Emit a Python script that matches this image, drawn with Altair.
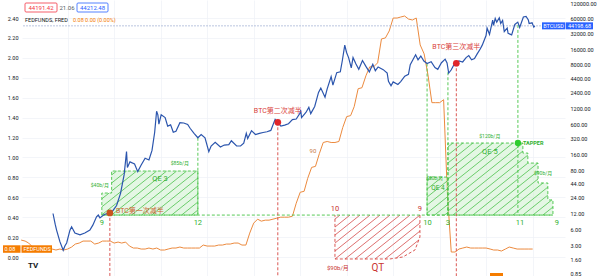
import math
import altair as alt
import pandas as pd

# ---------------- values ----------------
btc_series = [
    ("2011-09-08", 12.0), ("2011-09-25", 7.5), ("2011-10-06", 5.8), ("2011-11-01", 3.5),
    ("2011-11-27", 2.4), ("2011-12-10", 2.9), ("2011-12-24", 3.3), ("2012-01-19", 5.8),
    ("2012-02-01", 6.7), ("2012-02-27", 5.1), ("2012-04-07", 4.7), ("2012-05-15", 5.1),
    ("2012-06-24", 5.8), ("2012-07-17", 7.2), ("2012-08-15", 10.4), ("2012-08-29", 11.2),
    ("2012-09-11", 9.9), ("2012-10-15", 11.5), ("2012-11-28", 12.3), ("2012-12-20", 13.4),
    ("2013-01-20", 17.0), ("2013-02-20", 29.0), ("2013-03-20", 65.0), ("2013-04-08", 180.0),
    ("2013-04-15", 90.0), ("2013-05-05", 115.0), ("2013-06-10", 105.0), ("2013-07-05", 75.0),
    ("2013-08-01", 100.0), ("2013-09-01", 135.0), ("2013-10-01", 125.0), ("2013-10-25", 190.0),
    ("2013-11-15", 420.0), ("2013-11-30", 1050.0), ("2013-12-10", 900.0), ("2013-12-18", 600.0),
    ("2014-01-05", 900.0), ("2014-02-05", 800.0), ("2014-02-25", 550.0), ("2014-03-20", 580.0),
    ("2014-04-10", 420.0), ("2014-05-01", 440.0), ("2014-06-01", 640.0), ("2014-07-01", 630.0),
    ("2014-08-01", 590.0), ("2014-08-20", 500.0), ("2014-09-20", 400.0), ("2014-10-20", 330.0),
    ("2014-11-15", 380.0), ("2014-12-15", 330.0), ("2015-01-14", 180.0), ("2015-02-01", 230.0),
    ("2015-03-05", 270.0), ("2015-04-15", 220.0), ("2015-05-15", 240.0), ("2015-06-20", 245.0),
    ("2015-07-10", 290.0), ("2015-08-20", 230.0), ("2015-09-20", 230.0), ("2015-10-15", 260.0),
    ("2015-11-04", 400.0), ("2015-11-15", 320.0), ("2015-12-15", 450.0), ("2016-01-15", 380.0),
    ("2016-02-15", 400.0), ("2016-03-15", 415.0), ("2016-04-15", 430.0), ("2016-05-15", 455.0),
    ("2016-06-18", 740.0), ("2016-07-09", 650.0), ("2016-08-02", 550.0), ("2016-09-01", 575.0),
    ("2016-10-01", 610.0), ("2016-11-01", 730.0), ("2016-12-01", 750.0), ("2016-12-30", 960.0),
    ("2017-01-05", 1100.0), ("2017-01-12", 800.0), ("2017-02-15", 1000.0), ("2017-03-10", 1250.0),
    ("2017-03-25", 950.0), ("2017-04-25", 1300.0), ("2017-05-25", 2400.0), ("2017-06-12", 2900.0),
    ("2017-07-15", 1950.0), ("2017-08-01", 2800.0), ("2017-09-01", 4800.0), ("2017-09-15", 3300.0),
    ("2017-10-15", 5700.0), ("2017-11-12", 5900.0), ("2017-11-28", 9700.0), ("2017-12-17", 19000.0),
    ("2017-12-31", 13800.0), ("2018-01-16", 11000.0), ("2018-02-06", 7000.0), ("2018-02-20", 11000.0),
    ("2018-03-15", 8300.0), ("2018-04-06", 6600.0), ("2018-05-05", 9700.0), ("2018-06-01", 7500.0),
    ("2018-06-28", 5900.0), ("2018-07-25", 8200.0), ("2018-08-14", 6200.0), ("2018-09-05", 7300.0),
    ("2018-10-15", 6500.0), ("2018-11-15", 5600.0), ("2018-11-25", 3900.0), ("2018-12-15", 3200.0),
    ("2019-01-01", 3800.0), ("2019-02-07", 3400.0), ("2019-03-01", 3850.0), ("2019-04-02", 4900.0),
    ("2019-05-01", 5300.0), ("2019-05-15", 8100.0), ("2019-06-26", 12500.0), ("2019-07-15", 10000.0),
    ("2019-08-06", 11800.0), ("2019-08-30", 9500.0), ("2019-09-24", 8500.0), ("2019-10-26", 9200.0),
    ("2019-11-25", 7100.0), ("2019-12-17", 6600.0), ("2020-01-15", 8800.0), ("2020-02-13", 10300.0),
    ("2020-02-28", 8700.0), ("2020-03-12", 5600.0), ("2020-03-31", 6400.0), ("2020-04-30", 8700.0),
    ("2020-05-11", 8600.0), ("2020-06-01", 9500.0), ("2020-06-30", 9100.0), ("2020-07-27", 11000.0),
    ("2020-08-17", 12000.0), ("2020-09-08", 10000.0), ("2020-10-01", 10600.0), ("2020-10-21", 12800.0),
    ("2020-11-15", 16000.0), ("2020-12-01", 19000.0), ("2020-12-31", 29000.0), ("2021-01-08", 40000.0),
    ("2021-01-27", 30500.0), ("2021-02-21", 57000.0), ("2021-02-28", 45000.0), ("2021-03-13", 61000.0),
    ("2021-03-25", 52000.0), ("2021-04-14", 63000.0), ("2021-04-25", 49000.0), ("2021-05-10", 56000.0),
    ("2021-05-23", 34500.0), ("2021-06-15", 40000.0), ("2021-06-22", 31800.0), ("2021-07-20", 29800.0),
    ("2021-08-14", 47000.0), ("2021-09-06", 52000.0), ("2021-09-21", 41000.0), ("2021-10-20", 65000.0),
    ("2021-11-10", 67000.0), ("2021-11-28", 57000.0), ("2021-12-04", 49000.0), ("2021-12-27", 50500.0),
    ("2022-01-10", 41800.0), ("2022-01-18", 44198.68),
]
btc_dates = [d for d, _ in btc_series]
btc_close = [v for _, v in btc_series]

fed_first_month = (2011, 1)
fed_rate = [
    0.17, 0.16, 0.14, 0.10, 0.09, 0.09, 0.07, 0.10, 0.08, 0.07, 0.08, 0.07,
    0.08, 0.10, 0.13, 0.14, 0.16, 0.16, 0.16, 0.13, 0.14, 0.16, 0.16, 0.16,
    0.14, 0.15, 0.14, 0.15, 0.11, 0.09, 0.09, 0.08, 0.08, 0.09, 0.08, 0.09,
    0.07, 0.07, 0.08, 0.09, 0.09, 0.10, 0.09, 0.09, 0.09, 0.09, 0.09, 0.12,
    0.11, 0.11, 0.11, 0.12, 0.12, 0.13, 0.13, 0.14, 0.14, 0.12, 0.12, 0.24,
    0.34, 0.38, 0.36, 0.37, 0.37, 0.38, 0.39, 0.40, 0.40, 0.40, 0.41, 0.54,
    0.65, 0.66, 0.79, 0.90, 0.91, 1.04, 1.15, 1.16, 1.15, 1.15, 1.16, 1.30,
    1.41, 1.42, 1.51, 1.69, 1.70, 1.82, 1.91, 1.91, 1.95, 2.19, 2.20, 2.27,
    2.40, 2.40, 2.41, 2.42, 2.39, 2.38, 2.40, 2.13, 2.04, 1.83, 1.55, 1.55,
    1.55, 1.58, 0.65, 0.05, 0.05, 0.08, 0.09, 0.10, 0.09, 0.09, 0.09, 0.09,
    0.09, 0.08, 0.07, 0.07, 0.06, 0.08, 0.10, 0.09, 0.08, 0.08, 0.08, 0.08,
    0.08,
]

halving_dates = ["2012-11-28", "2016-07-09", "2020-05-11"]
halving_price = [12.3, 650.0, 8600.0]
halving_labels = ["BTC第一次减半", "BTC第二次减半", "BTC第三次减半"]
halving_label_price = [13.4, 1064.0, 17500.0]
halving_label_date = ["2013-01-15", "2016-07-09", "2020-05-11"]

left_ticks = [0.0, 0.2, 0.4, 0.6, 0.8, 1.0, 1.2, 1.4, 1.6, 1.8, 2.0, 2.2, 2.4]
right_ticks = [0.85, 1.6, 3, 6, 12, 24, 44, 80, 160, 320, 600, 1200, 2400, 4400,
               8000, 16000, 32000, 60000, 120000]
year_lines = list(range(2012, 2023))

last_btc = 44198.68
last_fed = 0.08

# QE / QT annotation geometry (dates, BTC price levels)
BASE = 11.2
qe3_steps = [("2012-09-26", 29.4), ("2012-12-12", 77.0)]
qe3_end = "2014-10-20"
qe4_steps = [("2019-09-24", 59.0)]
qe4_end = "2020-03-06"
qe5_steps = [("2020-03-06", 262.0), ("2021-10-16", 169.0), ("2021-11-24", 109.0),
             ("2022-02-12", 45.6), ("2022-04-30", 21.7)]
qe5_end = "2022-06-09"
qt_shape = [("2017-10-01", 11.2), ("2019-07-30", 11.2), ("2019-07-30", 4.29),
            ("2019-06-21", 2.43), ("2019-03-18", 1.79), ("2018-12-06", 1.64),
            ("2017-10-01", 1.64)]
green_vlines = [("2014-10-20", 330.0), ("2019-09-24", 8500.0),
                ("2020-03-06", 5800.0), ("2021-09-07", 46000.0)]
taper_point = ("2021-09-07", 262.0)

green_notes = [
    ("$40b/月", "2012-09-11", 41.8, 5.0),
    ("$85b/月", "2014-06-01", 109.0, 5.0),
    ("QE 3", "2013-12-27", 54.3, 7.5),
    ("$60b/月", "2019-11-24", 54.0, 4.5),
    ("QE 4", "2019-12-18", 36.6, 6.5),
    ("$120b/月", "2021-01-30", 356.0, 5.0),
    ("QE 5", "2021-01-30", 177.0, 7.5),
    ("$90b/月", "2022-03-24", 70.6, 5.0),
]
green_months = [("9", "2012-09-26"), ("12", "2014-10-20"), ("10", "2019-09-28"),
                ("3", "2020-03-06"), ("11", "2021-09-23"), ("9", "2022-07-10")]
green_month_price = 7.9
red_months = [("10", "2017-10-01"), ("9", "2019-07-30")]
red_month_price = 14.6
red_notes = [("$90b/月", "2017-10-24", 1.105, 6.0), ("QT", "2018-09-03", 1.105, 10.0)]
orange_note = ("90", "2017-04-11", 185.0)

# ---------------- layout constants ----------------
W, H = 543, 276
PAD_L = 22
X_DOM = [2011.018, 2022.695]
FED_DOM = [-0.1908, 2.581]
BTC_DOM = [0.7786, 136980.0]

BLUE = "#2b55ad"
ORANGE = "#ec8a3e"
GREEN = "#45c445"
GREEN_TXT = "#2fb02f"
RED = "#d64541"
RED_TXT = "#c9342f"
TAG_BLUE = "#2962ff"
TAG_ORANGE = "#f57c00"
GRID = "#eef1f7"
FONT = "Roboto, 'Noto Sans CJK SC'"


def dy(s):
    d = pd.Timestamp(s)
    a = pd.Timestamp(year=d.year, month=1, day=1)
    b = pd.Timestamp(year=d.year + 1, month=1, day=1)
    return d.year + (d - a) / (b - a)


LP0, LP1 = math.log(BTC_DOM[0]), math.log(BTC_DOM[1])


def to_px(t, p):
    x = (t - X_DOM[0]) / (X_DOM[1] - X_DOM[0]) * W
    y = H - (math.log(p) - LP0) / (LP1 - LP0) * H
    return x, y


def from_px(x, y):
    t = X_DOM[0] + x / W * (X_DOM[1] - X_DOM[0])
    p = math.exp(LP0 + (H - y) / H * (LP1 - LP0))
    return t, p


def step_polygon(steps, end):
    pts = [(dy(steps[0][0]), BASE)]
    for i, (d, lvl) in enumerate(steps):
        t_next = dy(steps[i + 1][0]) if i + 1 < len(steps) else dy(end)
        pts.append((dy(d), lvl))
        pts.append((t_next, lvl))
    pts.append((dy(end), BASE))
    return pts


def step_rects(steps, end):
    rows = []
    for i, (d, lvl) in enumerate(steps):
        t_next = dy(steps[i + 1][0]) if i + 1 < len(steps) else dy(end)
        rows.append({"t": dy(d), "t2": t_next, "p": BASE, "p2": lvl})
    return rows


def hatch(poly, spacing=10.0, slope=0.8):
    pix = [to_px(t, p) for t, p in poly]
    cv = [y + slope * x for x, y in pix]
    step = spacing * slope
    c = min(cv) + step * 0.5
    segs = []
    while c < max(cv):
        hits = []
        n = len(pix)
        for i in range(n):
            x1, y1 = pix[i]
            x2, y2 = pix[(i + 1) % n]
            f1 = y1 + slope * x1 - c
            f2 = y2 + slope * x2 - c
            if (f1 < 0) != (f2 < 0):
                s = f1 / (f1 - f2)
                hits.append((x1 + s * (x2 - x1), y1 + s * (y2 - y1)))
        hits.sort()
        for j in range(0, len(hits) - 1, 2):
            ta, pa = from_px(*hits[j])
            tb, pb = from_px(*hits[j + 1])
            segs.append({"t": ta, "p": pa, "t2": tb, "p2": pb})
        c += step
    return segs


# ---------------- tables ----------------
btc_df = pd.DataFrame({"t": [dy(d) for d in btc_dates], "p": btc_close})
fed_dates = []
for i in range(len(fed_rate)):
    m = fed_first_month[1] - 1 + i
    fed_dates.append(f"{fed_first_month[0] + m // 12}-{m % 12 + 1:02d}-01")
fed_df = pd.DataFrame({"t": [dy(d) for d in fed_dates], "v": fed_rate})

green_polys = {
    "qe3": step_polygon(qe3_steps, qe3_end),
    "qe4": step_polygon(qe4_steps, qe4_end),
    "qe5": step_polygon(qe5_steps, qe5_end),
}
qt_poly = [(dy(d), p) for d, p in qt_shape]

green_fill = pd.DataFrame(step_rects(qe3_steps, qe3_end) + step_rects(qe4_steps, qe4_end)
                          + step_rects(qe5_steps, qe5_end))
green_hatch = pd.DataFrame(sum([hatch(p) for p in green_polys.values()], []))
red_hatch = pd.DataFrame(hatch(qt_poly))

outline_rows = []
for name, poly in green_polys.items():
    for k, (t, p) in enumerate(poly + [poly[0]]):
        outline_rows.append({"shape": name, "i": k, "t": t, "p": p})
green_outline = pd.DataFrame(outline_rows)
qt_open = qt_poly[1:] + [qt_poly[0]]
red_outline = pd.DataFrame([{"i": k, "t": t, "p": p} for k, (t, p) in enumerate(qt_open)])

base_line = pd.DataFrame([{"t": dy(qe3_steps[0][0]), "t2": dy(qe5_end), "p": BASE}])
vline_df = pd.DataFrame([{"t": dy(d), "p": p, "p2": BASE} for d, p in green_vlines])
halv_df = pd.DataFrame({
    "t": [dy(d) for d in halving_dates], "p": halving_price, "p2": [0.5] * 3,
    "c": ["#c9541f", "#e0262b", "#e0262b"],
})
halv_txt = pd.DataFrame({
    "t": [dy(d) for d in halving_label_date], "p": halving_label_price,
    "label": halving_labels,
})
gnotes = pd.DataFrame([{"label": a, "t": dy(b), "p": c, "s": s} for a, b, c, s in green_notes])
gmonths = pd.DataFrame([{"label": a, "t": dy(b), "p": green_month_price} for a, b in green_months])
rmonths = pd.DataFrame([{"label": a, "t": dy(b), "p": red_month_price} for a, b in red_months])
rnotes = pd.DataFrame([{"label": a, "t": dy(b), "p": c, "s": s} for a, b, c, s in red_notes])
onote = pd.DataFrame([{"label": orange_note[0], "t": dy(orange_note[1]), "p": orange_note[2]}])
taper_df = pd.DataFrame([{"t": dy(taper_point[0]), "p": taper_point[1], "label": "TAPPER"}])

# ---------------- scales / axes ----------------
XS = alt.Scale(domain=X_DOM, nice=False, zero=False)
XA = alt.Axis(values=year_lines, labels=False, ticks=False, domain=False, grid=True,
              gridColor=GRID, gridWidth=0.7, title=None)
FS = alt.Scale(domain=FED_DOM, nice=False, zero=False)
FA = alt.Axis(orient="left", values=left_ticks, format=".2f", labelFontSize=5.5,
              labelFont="Roboto", labelColor="#131722", labelPadding=4, ticks=False,
              domain=False, grid=True, gridColor=GRID, gridWidth=0.7, title=None,
              labelFlush=False, labelOverlap=False)
BS = alt.Scale(type="log", domain=BTC_DOM, nice=False)
BA = alt.Axis(orient="right", values=right_ticks, format=".2f", labelFontSize=5.5,
              labelFont="Roboto", labelColor="#131722", labelPadding=5, ticks=False,
              domain=False, grid=False, title=None, labelFlush=False, labelOverlap=False,
              labelAlign="left")


def ex(f="t"):
    return alt.X(f"{f}:Q", scale=XS, axis=XA)


def eb(f="p"):
    return alt.Y(f"{f}:Q", scale=BS, axis=BA)


def ef(f="v"):
    return alt.Y(f"{f}:Q", scale=FS, axis=FA)


one = alt.Data(values=[{}])

# ---------------- FEDFUNDS group (left scale) ----------------
fed_line = alt.Chart(fed_df).mark_line(color=ORANGE, strokeWidth=1).encode(x=ex(), y=ef())
fed_val = alt.Data(values=[{"v": last_fed}])
fed_tag1 = alt.Chart(fed_val).mark_rule(color=TAG_ORANGE, strokeWidth=7.5).encode(
    x=alt.value(3 - PAD_L), x2=alt.value(20.5 - PAD_L), y=ef())
fed_tag2 = alt.Chart(fed_val).mark_rule(color=TAG_ORANGE, strokeWidth=7.5).encode(
    x=alt.value(21.5 - PAD_L), x2=alt.value(52 - PAD_L), y=ef())
fed_tag_t1 = alt.Chart(fed_val).mark_text(color="white", fontSize=5.5, font="Roboto",
                                           align="left", baseline="middle").encode(
    x=alt.value(4.5 - PAD_L), y=ef(), text=alt.value(f"{last_fed:.2f}"))
fed_tag_t2 = alt.Chart(fed_val).mark_text(color="white", fontSize=5.5, font="Roboto",
                                           align="left", baseline="middle").encode(
    x=alt.value(23.5 - PAD_L), y=ef(), text=alt.value("FEDFUNDS"))
fed_group = alt.layer(fed_line, fed_tag1, fed_tag2, fed_tag_t1, fed_tag_t2)

# ---------------- BTC group (right log scale) ----------------
btc_val = alt.Data(values=[{"p": last_btc}])
price_line = alt.Chart(btc_val).mark_rule(color="#a9b8d8", strokeWidth=0.8,
                                          strokeDash=[2, 1]).encode(y=eb())
fill = alt.Chart(green_fill).mark_rect(color="#c9f0c9", opacity=0.5).encode(
    x=ex(), x2="t2:Q", y=eb(), y2="p2:Q")
ghatch = alt.Chart(green_hatch).mark_rule(color="#4cc24c", strokeWidth=0.8).encode(
    x=ex(), x2="t2:Q", y=eb(), y2="p2:Q")
rhatch = alt.Chart(red_hatch).mark_rule(color="#d44a4a", strokeWidth=0.8).encode(
    x=ex(), x2="t2:Q", y=eb(), y2="p2:Q")
goutline = alt.Chart(green_outline).mark_line(color=GREEN, strokeWidth=0.9,
                                              strokeDash=[3, 2]).encode(
    x=ex(), y=eb(), detail="shape:N", order="i:Q")
routline = alt.Chart(red_outline).mark_line(color=RED, strokeWidth=0.9,
                                            strokeDash=[3, 2]).encode(
    x=ex(), y=eb(), order="i:Q")
gbase = alt.Chart(base_line).mark_rule(color=GREEN, strokeWidth=0.9, strokeDash=[3, 2]).encode(
    x=ex(), x2="t2:Q", y=eb())
gvl = alt.Chart(vline_df).mark_rule(color=GREEN, strokeWidth=0.9, strokeDash=[3, 2]).encode(
    x=ex(), y=eb(), y2="p2:Q")
hvl = alt.Chart(halv_df).mark_rule(color=RED, strokeWidth=0.9, strokeDash=[3, 2],
                                   clip=True).encode(x=ex(), y=eb(), y2="p2:Q")
btc_line = alt.Chart(btc_df).mark_line(color=BLUE, strokeWidth=1.2).encode(x=ex(), y=eb())
hmark = alt.Chart(halv_df).mark_point(filled=True, size=45, opacity=1).encode(
    x=ex(), y=eb(), color=alt.Color("c:N", scale=None))
taper_dot = alt.Chart(taper_df).mark_point(filled=True, size=40, opacity=1,
                                           color="#2ecc2e").encode(x=ex(), y=eb())
taper_txt = alt.Chart(taper_df).mark_text(color="#2fb02f", fontSize=5.5, fontWeight="bold",
                                          font="Roboto", align="left", baseline="middle",
                                          dx=5).encode(x=ex(), y=eb(), text="label:N")
h1_txt = alt.Chart(halv_txt.iloc[:1]).mark_text(color="#c8642e", fontSize=7, font=FONT,
                                               align="left", baseline="middle").encode(
    x=ex(), y=eb(), text="label:N")
h23_txt = alt.Chart(halv_txt.iloc[1:]).mark_text(color="#d9413a", fontSize=7, font=FONT,
                                                align="center", baseline="middle").encode(
    x=ex(), y=eb(), text="label:N")
gnote_txt = alt.Chart(gnotes).mark_text(color=GREEN_TXT, font=FONT, baseline="middle").encode(
    x=ex(), y=eb(), text="label:N", size=alt.Size("s:Q", scale=None))
gmonth_txt = alt.Chart(gmonths).mark_text(color=GREEN_TXT, font="Roboto", fontSize=7.5,
                                          baseline="middle").encode(
    x=ex(), y=eb(), text="label:N")
rmonth_txt = alt.Chart(rmonths).mark_text(color=RED_TXT, font="Roboto", fontSize=7.5,
                                          baseline="middle").encode(
    x=ex(), y=eb(), text="label:N")
rnote_txt = alt.Chart(rnotes).mark_text(color=RED_TXT, font=FONT, baseline="middle").encode(
    x=ex(), y=eb(), text="label:N", size=alt.Size("s:Q", scale=None))
onote_txt = alt.Chart(onote).mark_text(color="#c77a45", font="Roboto", fontSize=6,
                                       baseline="middle").encode(x=ex(), y=eb(), text="label:N")

# price tag on the right scale
btc_tag1 = alt.Chart(btc_val).mark_rule(color=TAG_BLUE, strokeWidth=7).encode(
    x=alt.value(542 - PAD_L), x2=alt.value(565 - PAD_L), y=eb())
btc_tag2 = alt.Chart(btc_val).mark_rule(color=TAG_BLUE, strokeWidth=7).encode(
    x=alt.value(565.6 - PAD_L), x2=alt.value(593 - PAD_L), y=eb())
btc_tag_t1 = alt.Chart(btc_val).mark_text(color="white", fontSize=5.5, font="Roboto",
                                          align="center", baseline="middle").encode(
    x=alt.value(553.5 - PAD_L), y=eb(), text=alt.value("BTCUSD"))
btc_tag_t2 = alt.Chart(btc_val).mark_text(color="white", fontSize=5.5, font="Roboto",
                                          align="left", baseline="middle").encode(
    x=alt.value(568 - PAD_L), y=eb(), text=alt.value(f"{last_btc:.2f}"))

# header (legend) boxes
hdr_box1 = alt.Chart(one).mark_rect(fill="white", stroke="#f23645", strokeWidth=0.8,
                                    cornerRadius=1).encode(
    x=alt.value(25 - PAD_L), x2=alt.value(57 - PAD_L), y=alt.value(3), y2=alt.value(12))
hdr_box2 = alt.Chart(one).mark_rect(fill="white", stroke=TAG_BLUE, strokeWidth=0.8,
                                    cornerRadius=1).encode(
    x=alt.value(77 - PAD_L), x2=alt.value(108 - PAD_L), y=alt.value(3), y2=alt.value(12))


def hdr_text(txt, x, y, color, align="left", size=6):
    return alt.Chart(one).mark_text(color=color, fontSize=size, font="Roboto", align=align,
                                    baseline="middle").encode(
        x=alt.value(x - PAD_L), y=alt.value(y), text=alt.value(txt))


hdr = [
    hdr_text("44191.42", 41, 7.8, "#f23645", "center"),
    hdr_text("21.06", 59.5, 7.8, "#555b66"),
    hdr_text("44212.48", 92.5, 7.8, TAG_BLUE, "center"),
    hdr_text("FEDFUNDS, FRED", 25, 20, "#131722", size=5.5),
    hdr_text("0.08  0.00 (0.00%)", 73, 20, TAG_ORANGE, size=5.5),
]
logo = alt.Chart(one).mark_text(color="#131722", fontSize=8, fontWeight="bold", font="Roboto",
                                align="left", baseline="middle").encode(
    x=alt.value(28 - PAD_L), y=alt.value(266), text=alt.value("TV"))
bottom_tag = alt.Chart(one).mark_rule(color=TAG_ORANGE, strokeWidth=5).encode(
    x=alt.value(490 - PAD_L), x2=alt.value(503 - PAD_L), y=alt.value(275.5))

btc_group = alt.layer(
    price_line, fill, ghatch, rhatch, goutline, routline, gbase, gvl, hvl,
    btc_line, hmark, taper_dot, taper_txt, h1_txt, h23_txt,
    gnote_txt, gmonth_txt, rmonth_txt, rnote_txt, onote_txt,
    btc_tag1, btc_tag2, btc_tag_t1, btc_tag_t2,
    hdr_box1, hdr_box2, *hdr, logo, bottom_tag,
)

chart = alt.layer(fed_group, btc_group).resolve_scale(y="independent").properties(
    width=W, height=H,
    autosize=alt.AutoSizeParams(type="none"),
    padding={"left": PAD_L, "top": 0, "right": 600 - PAD_L - W, "bottom": 0},
    background="white",
).configure_view(stroke=None)

chart.save("out.html", embed_options={"renderer": "svg", "actions": False})
